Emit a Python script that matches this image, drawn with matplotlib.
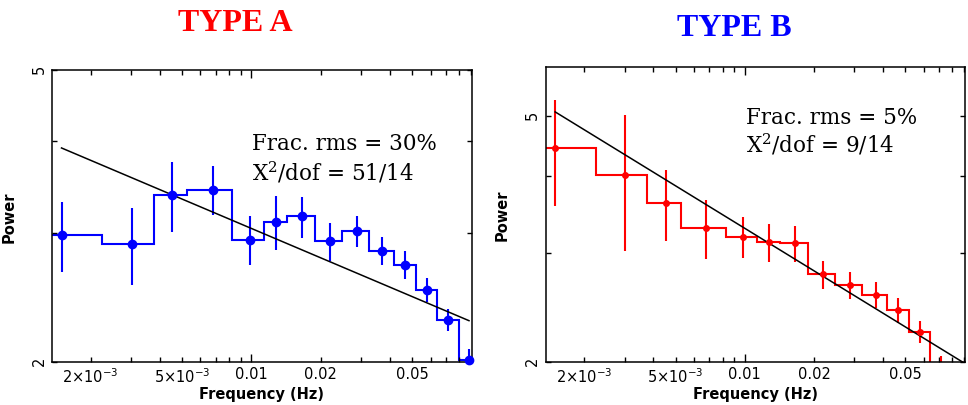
import matplotlib
matplotlib.use('Agg')
import matplotlib.pyplot as plt
from matplotlib.ticker import FixedLocator, FixedFormatter, NullFormatter

plt.rcParams['mathtext.fontset'] = 'dejavusans'

# bin centres / edges (Hz), shared by both panels
freq = [1.496e-3, 3.021e-3, 4.52e-3, 6.79e-3, 9.83e-3, 0.01275, 0.01659,
        0.02188, 0.02866, 0.03705, 0.04663, 0.05787, 0.07167, 0.0881]
edges = [1.0e-3, 2.245e-3, 3.764e-3, 5.274e-3, 8.27e-3, 0.01131, 0.01428,
         0.01883, 0.02474, 0.03231, 0.04148, 0.05205, 0.06397, 0.07946, 0.0977]

# TYPE A
power_a = [2.977, 2.896, 3.378, 3.435, 2.936, 3.107, 3.158,
           2.921, 3.015, 2.837, 2.714, 2.507, 2.284, 2.013]
err_a = [0.326, 0.348, 0.37, 0.264, 0.228, 0.261, 0.203,
         0.173, 0.149, 0.125, 0.118, 0.096, 0.08, 0.07]
fit_a = [3.915, 2.277]

# TYPE B
power_b = [4.434, 4.014, 3.612, 3.294, 3.186, 3.123, 3.108,
           2.769, 2.661, 2.567, 2.424, 2.236, 1.95, 1.93]
err_b = [0.869, 0.994, 0.477, 0.363, 0.243, 0.222, 0.207,
         0.146, 0.137, 0.128, 0.112, 0.09, 0.09, 0.078]
fit_b = [5.07, 2.0]

xticks = [2e-3, 5e-3, 0.01, 0.02, 0.05]
xticklabels = [r'2$\times$10$^{-3}$', r'5$\times$10$^{-3}$', '0.01', '0.02', '0.05']
xminor = [3e-3, 4e-3, 6e-3, 7e-3, 8e-3, 9e-3, 0.03, 0.04, 0.06, 0.07, 0.08, 0.09]
yticks = [2, 5]
yminor = [3, 4]


def setup(ax, ylim):
    ax.set_xscale('log')
    ax.set_yscale('log')
    ax.set_xlim(1.36e-3, 0.0908)
    ax.set_ylim(*ylim)
    ax.xaxis.set_major_locator(FixedLocator(xticks))
    ax.xaxis.set_major_formatter(FixedFormatter(xticklabels))
    ax.xaxis.set_minor_locator(FixedLocator(xminor))
    ax.xaxis.set_minor_formatter(NullFormatter())
    ax.yaxis.set_major_locator(FixedLocator(yticks))
    ax.yaxis.set_major_formatter(FixedFormatter([str(v) for v in yticks]))
    ax.yaxis.set_minor_locator(FixedLocator(yminor))
    ax.yaxis.set_minor_formatter(NullFormatter())
    ax.tick_params(which='both', direction='in', top=True, right=True,
                   width=1.0, length=3.5, labelsize=10.5, pad=3)
    ax.tick_params(axis='y', labelrotation=90, pad=4)
    for t, v in zip(ax.xaxis.get_major_ticks(), xticks):
        if v == 0.01:
            t.tick1line.set_markersize(6)
            t.tick2line.set_markersize(6)
    for s in ax.spines.values():
        s.set_linewidth(1.1)
    ax.set_xlabel('Frequency (Hz)', fontsize=10.5, fontweight='bold', labelpad=1)
    ax.set_ylabel('Power', fontsize=10.5, fontweight='bold', labelpad=11)


fig = plt.figure(figsize=(9.68, 4.06), dpi=100)
ax_a = fig.add_axes([0.0537, 0.1059, 0.4339, 0.7192])
ax_b = fig.add_axes([0.5637, 0.1067, 0.4332, 0.7266])

setup(ax_a, (2, 5))
setup(ax_b, (2, 6))

# left panel
ax_a.stairs(power_a, edges, color='#0000ff', lw=1.5, baseline=None)
ax_a.errorbar(freq, power_a, yerr=err_a, fmt='none', ecolor='#0000ff', elinewidth=1.5)
ax_a.plot(freq, power_a, 'o', color='#0000ff', ms=6, clip_on=False, zorder=4)
ax_a.plot([freq[0], freq[-1]], fit_a, color='black', lw=1.1)
ax_a.text(0.4755, 0.7295, 'Frac. rms = 30%', transform=ax_a.transAxes,
          family='DejaVu Serif', fontsize=15.5, va='baseline')
ax_a.text(0.4755, 0.6267, r'X$^2$/dof = 51/14', transform=ax_a.transAxes,
          family='DejaVu Serif', fontsize=15.5, va='baseline', math_fontfamily='dejavuserif')

# right panel
ax_b.stairs(power_b, edges, color='#ff0000', lw=1.5, baseline=None)
ax_b.errorbar(freq, power_b, yerr=err_b, fmt='o', color='#ff0000', ms=4,
              ecolor='#ff0000', elinewidth=1.5)
ax_b.plot([freq[0], freq[-1]], fit_b, color='black', lw=1.1)
ax_b.text(0.477, 0.808, 'Frac. rms = 5%', transform=ax_b.transAxes,
          family='DejaVu Serif', fontsize=15.5, va='baseline')
ax_b.text(0.477, 0.7119, r'X$^2$/dof = 9/14', transform=ax_b.transAxes,
          family='DejaVu Serif', fontsize=15.5, va='baseline', math_fontfamily='dejavuserif')

fig.text(235.8 / 968, 1 - 31 / 406, 'TYPE A', color='#ff0000', family='Liberation Serif',
         fontweight='bold', fontsize=23, ha='center', va='baseline')
fig.text(734 / 968, 1 - 36 / 406, 'TYPE B', color='#0000ff', family='Liberation Serif',
         fontweight='bold', fontsize=23, ha='center', va='baseline')

fig.savefig('out.png', dpi=100)
